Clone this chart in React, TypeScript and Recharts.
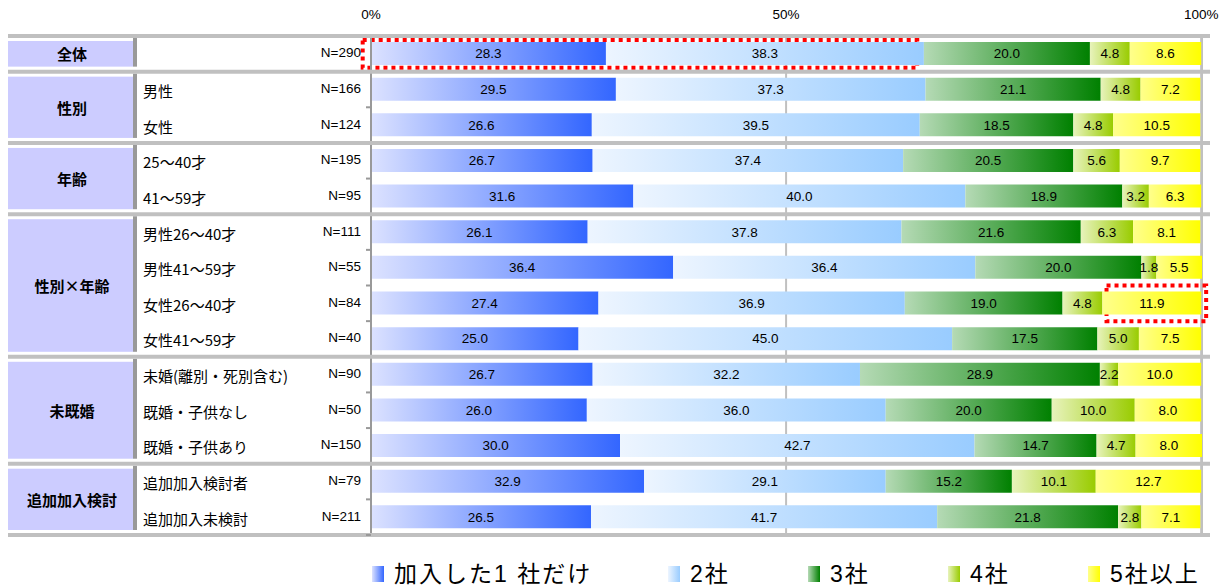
import { BarChart, Bar, XAxis, YAxis, CartesianGrid, LabelList, ReferenceArea } from 'recharts';

// row labels (left table)
const categories = [
  '', '男性', '女性', '25～40才', '41～59才',
  '男性26～40才', '男性41～59才', '女性26～40才', '女性41～59才',
  '未婚(離別・死別含む)', '既婚・子供なし', '既婚・子供あり',
  '追加加入検討者', '追加加入未検討',
];
const sampleSizes = [290, 166, 124, 195, 95, 111, 55, 84, 40, 90, 50, 150, 79, 211];
const groupNames = ['全体', '性別', '年齢', '性別×年齢', '未既婚', '追加加入検討'];
const groupSizes = [1, 2, 2, 4, 3, 2];

const seriesNames = ['加入した1 社だけ', '2社', '3社', '4社', '5社以上'];
const oneCompany = [28.3, 29.5, 26.6, 26.7, 31.6, 26.1, 36.4, 27.4, 25.0, 26.7, 26.0, 30.0, 32.9, 26.5];
const twoCompanies = [38.3, 37.3, 39.5, 37.4, 40.0, 37.8, 36.4, 36.9, 45.0, 32.2, 36.0, 42.7, 29.1, 41.7];
const threeCompanies = [20.0, 21.1, 18.5, 20.5, 18.9, 21.6, 20.0, 19.0, 17.5, 28.9, 20.0, 14.7, 15.2, 21.8];
const fourCompanies = [4.8, 4.8, 4.8, 5.6, 3.2, 6.3, 1.8, 4.8, 5.0, 2.2, 10.0, 4.7, 10.1, 2.8];
const fivePlus = [8.6, 7.2, 10.5, 9.7, 6.3, 8.1, 5.5, 11.9, 7.5, 10.0, 8.0, 8.0, 12.7, 7.1];

const xTicks = [0, 50, 100];

const seriesValues = [oneCompany, twoCompanies, threeCompanies, fourCompanies, fivePlus];
const seriesKeys = ['s1', 's2', 's3', 's4', 's5'];
const gradFrom = ['#dce2ff', '#edf5ff', '#b5dab5', '#e8f3bc', '#ffff8c'];
const gradTo = ['#3366ff', '#99ccff', '#008000', '#99cc00', '#ffff00'];

const data = categories.map((label, i) => {
  const row: any = { row: `r${i}`, label };
  seriesKeys.forEach((k, s) => { row[k] = seriesValues[s][i]; });
  return row;
});

// which group a row belongs to
const groupStart: number[] = [];
const groupOfRow: number[] = [];
groupSizes.reduce((start, n, g) => {
  groupStart.push(start);
  for (let j = 0; j < n; j++) groupOfRow.push(g);
  return start + n;
}, 0);

const W = 1229;
const H = 588;
const TOP = 36;
const BOTTOM = 53;
const LEFT = 371;
const RIGHT = 27;
const BAND = (H - TOP - BOTTOM) / categories.length;

const FONT = "'Liberation Sans', Arial, 'Noto Sans CJK JP', sans-serif";
const JP = "'Noto Sans CJK JP', sans-serif";

function RowTick(props: any) {
  const { y, payload } = props;
  const i = Number(String(payload.value).slice(1));
  const g = groupOfRow[i];
  const top = y - BAND / 2;
  const bottom = y + BAND / 2;
  const isStart = groupStart[g] === i;
  const isLast = i === categories.length - 1;
  const gh = groupSizes[g] * BAND;
  return (
    <g>
      {isStart && (
        <>
          <rect x={8} y={top + 5} width={125} height={gh - 10} fill="#ccccff" />
          <rect x={133} y={top + 2} width={4} height={gh - 7} fill="#999999" />
          <text x={72} y={top + gh / 2} textAnchor="middle" dominantBaseline="central"
            fontFamily={JP} fontWeight="bold" fontSize={15} fill="#000">{groupNames[g]}</text>
          <line x1={8} x2={1210} y1={top} y2={top} stroke="#c0c0c0" strokeWidth={4} />
        </>
      )}
      {isLast && <line x1={8} x2={1210} y1={bottom} y2={bottom} stroke="#c0c0c0" strokeWidth={4} />}
      <line x1={LEFT - 5} x2={LEFT} y1={bottom} y2={bottom} stroke="#999" strokeWidth={2} />
      <text x={143} y={y + 1} dominantBaseline="central" fontFamily={JP} fontSize={15} fill="#000">
        {categories[i]}
      </text>
      <text x={361} y={y - 1} textAnchor="end" dominantBaseline="central" fontFamily={FONT} fontSize={13.5} fill="#000">
        N={sampleSizes[i]}
      </text>
    </g>
  );
}

function PctTick(props: any) {
  const { x, payload } = props;
  return (
    <text x={x} y={19} textAnchor="middle" fontFamily={FONT} fontSize={13.5} fill="#000">
      {payload.value}%
    </text>
  );
}

// dotted highlight box, pulled in a little from the band edges
function makeDotBox(inset: number) {
  return (props: any) => (
    <rect
      x={props.x}
      y={props.y + inset}
      width={props.width}
      height={props.height - inset * 2}
      fill="none"
      stroke="#ff0000"
      strokeWidth={4}
      strokeDasharray="4 4"
    />
  );
}

const legendLefts = [372, 668, 808, 948, 1088];

export default function App() {
  return (
    <div style={{ position: 'absolute', left: 0, top: 0, width: W, height: H, background: '#fff', overflow: 'hidden' }}>
      <BarChart
        width={W}
        height={H}
        data={data}
        layout="vertical"
        margin={{ top: 0, right: RIGHT, bottom: BOTTOM, left: 0 }}
        barSize={23}
      >
        <defs>
          {seriesKeys.map((k, s) => (
            <linearGradient key={k} id={`grad-${k}`} x1="0" y1="0" x2="1" y2="0">
              <stop offset="0%" stopColor={gradFrom[s]} />
              <stop offset="100%" stopColor={gradTo[s]} />
            </linearGradient>
          ))}
        </defs>
        <CartesianGrid horizontal={false} stroke="#c0c0c0" strokeWidth={2} />
        <XAxis
          type="number"
          orientation="top"
          domain={[0, 100]}
          ticks={xTicks}
          height={TOP}
          axisLine={false}
          tickLine={false}
          tick={<PctTick />}
        />
        <YAxis
          type="category"
          dataKey="row"
          width={LEFT}
          interval={0}
          axisLine={{ stroke: '#999', strokeWidth: 2 }}
          tickLine={false}
          tick={<RowTick />}
        />
        {seriesKeys.map((k, s) => (
          <Bar key={k} dataKey={k} name={seriesNames[s]} stackId="a" fill={`url(#grad-${k})`} isAnimationActive={false}>
            <LabelList
              dataKey={k}
              position="center"
              formatter={(v: any) => Number(v).toFixed(1)}
              fill="#000"
              fontSize={13.5}
              fontFamily={FONT}
            />
          </Bar>
        ))}
        <ReferenceArea
          y1="r0" y2="r0" x1={-1} x2={65.8}
          ifOverflow="visible"
          shape={makeDotBox(4)}
        />
        <ReferenceArea
          y1="r7" y2="r7" x1={88.6} x2={100.6}
          ifOverflow="visible"
          shape={makeDotBox(0)}
        />
      </BarChart>
      {seriesNames.map((name, s) => (
        <div key={name} style={{ position: 'absolute', left: legendLefts[s], top: 562, height: 24, display: 'flex', alignItems: 'center' }}>
          <span style={{ display: 'inline-block', width: 12, height: 16, background: `linear-gradient(to right, ${gradFrom[s]}, ${gradTo[s]})`, marginRight: 10 }} />
          <span style={{ fontFamily: FONT, fontSize: 23, lineHeight: '24px', color: '#000', whiteSpace: 'nowrap', letterSpacing: 2 }}>{name}</span>
        </div>
      ))}
    </div>
  );
}
